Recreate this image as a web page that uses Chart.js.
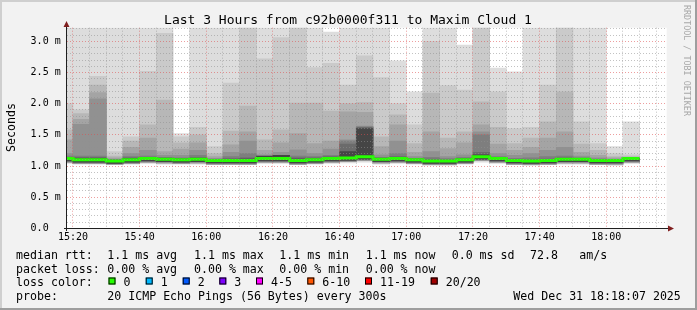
<!DOCTYPE html>
<html>
<head>
<meta charset="utf-8">
<title>Last 3 Hours from c92b0000f311 to Maxim Cloud 1</title>
<script src="https://cdn.jsdelivr.net/npm/chart.js@4/dist/chart.umd.min.js"></script>
<style>
  html, body { margin: 0; padding: 0; background: #f2f2f2; }
  canvas { display: block; }
</style>
</head>
<body>
<canvas id="smoke" width="697" height="310"></canvas>
<script>
// start of each 5 minute slot
const slots = ['15:15', '15:20', '15:25', '15:30', '15:35', '15:40', '15:45', '15:50', '15:55',
  '16:00', '16:05', '16:10', '16:15', '16:20', '16:25', '16:30', '16:35', '16:40', '16:45',
  '16:50', '16:55', '17:00', '17:05', '17:10', '17:15', '17:20', '17:25', '17:30', '17:35',
  '17:40', '17:45', '17:50', '17:55', '18:00', '18:05']

// sorted ping times (ms), ping20 = slowest of 20
const ping20 = [3.5, 3.5, 3.5, 3.5, 3.5, 3.5, 3.5, 1.52, 3.5, 3.5, 3.5, 3.5, 3.5, 3.5, 3.5, 3.5, 3.15, 3.5,
  3.5, 3.5, 2.69, 2.19, 3.5, 3.5, 2.94, 3.5, 2.57, 2.51, 3.5, 3.5, 3.5, 3.5, 3.5, 1.31, 1.71]
const ping19 = [2.00, 1.90, 2.44, 1.23, 1.47, 2.52, 3.13, 1.47, 1.62, 1.31, 2.33, 3.40, 2.72, 3.06, 3.40, 2.58, 2.65, 2.30,
  2.77, 2.42, 2.00, 1.66, 3.00, 2.29, 2.22, 3.40, 2.19, 1.60, 1.62, 2.30, 3.40, 1.71, 1.36, 1.20, 1.18]
const ping18 = [1.58, 1.84, 2.30, 1.16, 1.40, 1.66, 2.06, 1.37, 1.50, 1.20, 1.56, 1.96, 1.42, 1.58, 2.01, 2.01, 1.88, 2.00,
  2.02, 1.47, 1.82, 1.36, 2.17, 1.45, 1.55, 2.03, 1.62, 1.36, 1.45, 1.71, 2.19, 1.35, 1.25, 1.15, 1.15]
const ping17 = [1.42, 1.75, 2.18, 1.13, 1.30, 1.45, 1.23, 1.27, 1.37, 1.15, 1.34, 1.55, 1.25, 1.37, 1.52, 1.36, 1.40, 1.87,
  1.86, 1.31, 1.66, 1.22, 1.55, 1.28, 1.37, 1.66, 1.35, 1.25, 1.30, 1.45, 1.55, 1.22, 1.17, 1.13, 1.13]
const ping16 = [1.20, 1.67, 2.08, 1.11, 1.20, 1.25, 1.17, 1.17, 1.25, 1.12, 1.22, 1.40, 1.18, 1.22, 1.26, 1.20, 1.27, 1.42,
  1.64, 1.18, 1.40, 1.15, 1.23, 1.15, 1.18, 1.55, 1.20, 1.17, 1.20, 1.25, 1.30, 1.16, 1.13, 1.11, 1.12]
const ping15 = [1.16, 1.16, 1.16, 1.10, 1.15, 1.16, 1.14, 1.13, 1.17, 1.11, 1.15, 1.20, 1.15, 1.17, 1.16, 1.15, 1.17, 1.40,
  1.63, 1.14, 1.20, 1.12, 1.14, 1.12, 1.14, 1.50, 1.15, 1.12, 1.13, 1.15, 1.16, 1.13, 1.11, 1.10, 1.12]
const ping14 = [1.14, 1.14, 1.14, 1.10, 1.13, 1.14, 1.13, 1.12, 1.14, 1.10, 1.12, 1.13, 1.15, 1.16, 1.13, 1.13, 1.15, 1.35,
  1.62, 1.13, 1.15, 1.11, 1.11, 1.10, 1.12, 1.22, 1.14, 1.11, 1.10, 1.11, 1.13, 1.12, 1.10, 1.10, 1.12]
const ping12 = [1.13, 1.12, 1.12, 1.09, 1.12, 1.13, 1.12, 1.11, 1.12, 1.10, 1.10, 1.11, 1.16, 1.17, 1.11, 1.11, 1.13, 1.23,
  1.60, 1.12, 1.13, 1.11, 1.09, 1.09, 1.11, 1.18, 1.13, 1.10, 1.09, 1.10, 1.12, 1.11, 1.10, 1.09, 1.12]
const median = [1.12, 1.10, 1.10, 1.08, 1.10, 1.12, 1.11, 1.10, 1.11, 1.09, 1.09, 1.09, 1.12, 1.12, 1.09, 1.10, 1.12, 1.13,
  1.15, 1.11, 1.12, 1.10, 1.08, 1.08, 1.10, 1.15, 1.12, 1.09, 1.08, 1.09, 1.11, 1.11, 1.09, 1.09, 1.12]
const ping9 = [1.08, 1.06, 1.06, 1.04, 1.06, 1.08, 1.07, 1.06, 1.07, 1.05, 1.05, 1.05, 1.08, 1.08, 1.05, 1.06, 1.08, 1.09,
  1.11, 1.07, 1.08, 1.06, 1.04, 1.04, 1.06, 1.11, 1.08, 1.05, 1.04, 1.05, 1.07, 1.07, 1.05, 1.05, 1.08]
const ping4 = [1.06, 1.04, 1.04, 1.03, 1.04, 1.06, 1.05, 1.04, 1.05, 1.03, 1.03, 1.03, 1.06, 1.06, 1.03, 1.04, 1.06, 1.07,
  1.09, 1.05, 1.06, 1.04, 1.02, 1.02, 1.04, 1.09, 1.06, 1.03, 1.02, 1.03, 1.05, 1.05, 1.03, 1.03, 1.06]
const ping1 = [1.04, 1.03, 1.03, 1.02, 1.03, 1.04, 1.03, 1.03, 1.03, 1.02, 1.02, 1.02, 1.04, 1.04, 1.02, 1.03, 1.04, 1.05,
  1.06, 1.03, 1.04, 1.03, 1.01, 1.01, 1.03, 1.06, 1.04, 1.02, 1.01, 1.02, 1.03, 1.03, 1.02, 1.01, 1.04]

const xTickLabels = ['15:20', '15:40', '16:00', '16:20', '16:40', '17:00', '17:20', '17:40', '18:00']
const yTickValues = [0, 0.5, 1, 1.5, 2, 2.5, 3]
const yTickLabels = ['0.0', '0.5 m', '1.0 m', '1.5 m', '2.0 m', '2.5 m', '3.0 m']

const rttSummary = ['1.1', '1.1', '1.1', '1.1', '0.0']
const lossSummary = ['0.00', '0.00', '0.00', '0.00']
const lossLabels = ['0', '1', '2', '3', '4-5', '6-10', '11-19', '20/20']
const lossColors = ['#26ff00', '#00b8ff', '#0059ff', '#7e00ff', '#ff00ff', '#ff5500', '#ff0000', '#a10000']

const toMin = t => { const [h, m] = t.split(':').map(Number); return h * 60 + m }
const step = 5
const slotMin = slots.map(toMin)
const viewStart = toMin('15:18') + 7 / 60
const viewEnd = viewStart + 180
const mono = '"DejaVu Sans Mono", "Liberation Mono", monospace'

// smoke layers, outer (light) to inner (dark)
const layerTops = [ping20, ping19, ping18, ping17, ping16, ping15, ping14, ping12]
const layerBottoms = [ping1, ping4, ping4, ping4, ping4, ping9, ping9, ping9]
const layerGrays = ['#dddddd', '#cacaca', '#b7b7b7', '#a4a4a4', '#919191', '#7e7e7e', '#6b6b6b', '#454545']

const smokeSets = layerTops.map((top, i) => ({
  type: 'bar',
  data: slotMin.map((m, k) => ({ x: m + step / 2, y: [layerBottoms[i][k], top[k]] })),
  backgroundColor: layerGrays[i],
  borderWidth: 0,
  grouped: false,
  barPercentage: 1,
  categoryPercentage: 1,
  order: 20 - i,
  clip: 0
}))

const last = slotMin.length - 1
const medianSet = {
  type: 'line',
  data: slotMin.map((m, k) => ({ x: m, y: median[k] })).concat([{ x: slotMin[last] + step, y: median[last] }]),
  borderColor: lossColors[0],
  borderWidth: 3,
  stepped: true,
  pointRadius: 0,
  order: 0,
  clip: 0
}

const xGrid = []
for (let t = Math.ceil(viewStart / step) * step; t < viewEnd; t += step) xGrid.push(t)
const yGrid = []
for (let k = 0; k <= 32; k++) yGrid.push(k / 10)

const xMajor = v => xTickLabels.findIndex(l => toMin(l) === v)
const yMajor = v => yTickValues.findIndex(y => Math.abs(y - v) < 1e-6)
const MINOR = 'rgba(143,143,143,0.55)'
const MAJOR = 'rgba(222,79,79,0.55)'

const rrdDecor = {
  id: 'rrdDecor',
  beforeDraw (chart) {
    const { ctx, chartArea: a } = chart
    ctx.save()
    ctx.fillStyle = '#f2f2f2'
    ctx.fillRect(0, 0, chart.width, chart.height)
    ctx.fillStyle = '#ffffff'
    ctx.fillRect(a.left, a.top, a.right - a.left, a.bottom - a.top)
    ctx.restore()
  },
  afterDraw (chart) {
    const { ctx, chartArea: a } = chart
    ctx.save()
    // axis extensions and arrows
    ctx.strokeStyle = '#1f1f1f'
    ctx.lineWidth = 1
    ctx.beginPath()
    ctx.moveTo(66.5, 231); ctx.lineTo(66.5, 26)
    ctx.moveTo(64, 228.5); ctx.lineTo(668.5, 228.5)
    ctx.stroke()
    ctx.fillStyle = '#801f1f'
    ctx.beginPath()
    ctx.moveTo(66.5, 21); ctx.lineTo(63.5, 27); ctx.lineTo(69.5, 27); ctx.closePath()
    ctx.moveTo(674, 228.5); ctx.lineTo(668, 225.5); ctx.lineTo(668, 231.5); ctx.closePath()
    ctx.fill()

    // title
    ctx.fillStyle = '#000'
    ctx.font = '13px ' + mono
    ctx.textAlign = 'center'
    ctx.textBaseline = 'alphabetic'
    ctx.fillText('Last 3 Hours from c92b0000f311 to Maxim Cloud 1', 348, 23.5)

    // y axis title
    ctx.font = '11.6px ' + mono
    ctx.save()
    ctx.translate(15, 127.5)
    ctx.rotate(-Math.PI / 2)
    ctx.fillText('Seconds', 0, 0)
    ctx.restore()

    // watermark
    ctx.save()
    ctx.fillStyle = '#a8a8a8'
    ctx.font = '8.4px ' + mono
    ctx.textAlign = 'left'
    ctx.translate(684, 5)
    ctx.rotate(Math.PI / 2)
    ctx.fillText('RRDTOOL / TOBI OETIKER', 0, 0)
    ctx.restore()

    // legend
    ctx.textAlign = 'left'
    ctx.font = '11.6px ' + mono
    const cols = [107.3, 194, 279.3, 365.7, 451.7]
    const rttWords = ['avg', 'max', 'min', 'now', 'sd']
    ctx.fillText('median rtt:', 16, 259)
    rttSummary.forEach((v, i) => ctx.fillText(v + ' ms ' + rttWords[i], cols[i], 259))
    ctx.fillText('72.8', 530, 259)
    ctx.fillText('am/s', 579.3, 259)

    ctx.fillText('packet loss:', 16, 272.5)
    lossSummary.forEach((v, i) => ctx.fillText(v + ' % ' + rttWords[i === 3 ? 3 : i], cols[i], 272.5))

    ctx.fillText('loss color:', 16, 286)
    const boxX = [108.5, 145.7, 182.7, 219.3, 256, 307.3, 365, 430.7]
    lossLabels.forEach((l, i) => {
      ctx.fillStyle = lossColors[i]
      ctx.fillRect(boxX[i], 277.5, 7, 7)
      ctx.strokeStyle = '#000'
      ctx.strokeRect(boxX[i] + 0.5, 277.5 + 0.5, 6, 6)
      ctx.fillStyle = '#000'
      ctx.fillText(l, boxX[i] + 15, 286)
    })

    ctx.fillText('probe:', 16, 299.5)
    ctx.fillText('20 ICMP Echo Pings (56 Bytes) every 300s', 107.3, 299.5)
    ctx.fillText('Wed Dec 31 18:18:07 2025', 513.3, 299.5)

    // 3d frame
    ctx.fillStyle = '#cfcfcf'
    ctx.fillRect(0, 0, chart.width, 2)
    ctx.fillRect(0, 0, 2, chart.height)
    ctx.fillStyle = '#9e9e9e'
    ctx.fillRect(0, chart.height - 2, chart.width, 2)
    ctx.fillRect(chart.width - 2, 0, 2, chart.height)
    ctx.restore()
  }
}

new Chart(document.getElementById('smoke'), { // eslint-disable-line
  type: 'bar',
  data: { datasets: [medianSet, ...smokeSets] },
  options: {
    responsive: false,
    animation: false,
    devicePixelRatio: 1,
    layout: { padding: { top: 27.7, right: 30.3, bottom: 0, left: 0 } },
    plugins: { legend: { display: false }, tooltip: { enabled: false }, title: { display: false } },
    scales: {
      x: {
        type: 'linear',
        min: viewStart,
        max: viewEnd,
        offset: false,
        bounds: 'data',
        afterBuildTicks: s => { s.ticks = xGrid.map(v => ({ value: v })) },
        afterFit: s => { s.height = 81.7 },
        grid: {
          offset: false,
          drawTicks: false,
          z: 1,
          lineWidth: 1,
          color: c => xMajor(c.tick.value) >= 0 ? MAJOR : MINOR
        },
        border: { display: true, color: '#1f1f1f', width: 1, dash: [1, 2], z: 2 },
        ticks: {
          autoSkip: false,
          maxRotation: 0,
          padding: 3,
          color: '#000',
          font: { family: mono, size: 10 },
          callback: v => { const i = xMajor(v); return i >= 0 ? xTickLabels[i] : '' }
        }
      },
      y: {
        type: 'linear',
        min: 0,
        max: 3.22,
        bounds: 'data',
        afterBuildTicks: s => { s.ticks = yGrid.map(v => ({ value: v })) },
        afterFit: s => { s.width = 66.7 },
        grid: {
          drawTicks: false,
          z: 1,
          lineWidth: 1,
          color: c => yMajor(c.tick.value) >= 0 ? MAJOR : MINOR
        },
        border: { display: true, color: '#1f1f1f', width: 1, dash: [1, 2], z: 2 },
        ticks: {
          autoSkip: false,
          padding: 6,
          color: '#000',
          font: { family: mono, size: 10 },
          callback: v => { const i = yMajor(v); return i >= 0 ? yTickLabels[i].padEnd(5) : '' }
        }
      }
    }
  },
  plugins: [rrdDecor]
})
</script>
</body>
</html>
